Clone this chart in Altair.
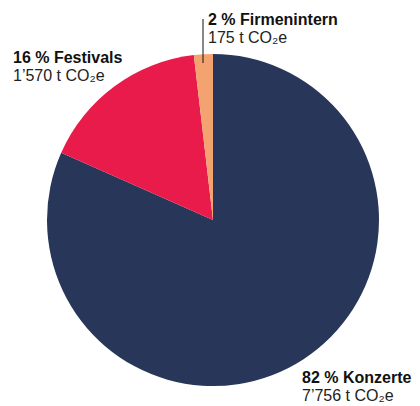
import altair as alt
import pandas as pd

categories = ["Konzerte", "Festivals", "Firmenintern"]
values = [7756, 1570, 175]
percents = ["82", "16", "2"]
amounts = ["7’756", "1’570", "175"]
colors = ["#283659", "#e91b4b", "#f2a36f"]

df = pd.DataFrame({
    "category": categories,
    "value": values,
    "idx": list(range(len(categories))),
    "head": [f"{p} % {c}" for p, c in zip(percents, categories)],
    "sub": [f"{a} t CO₂e" for a in amounts],
})

base = alt.Chart(df)

pie = base.mark_arc(radius=166).encode(
    theta=alt.Theta("value:Q", stack=True),
    color=alt.Color("category:N", scale=alt.Scale(domain=categories, range=colors), legend=None),
    order=alt.Order("idx:Q"),
    x=alt.value(205),
    y=alt.value(212),
)

label_pos = {
    "Konzerte": (294, 375),
    "Festivals": (5, 55),
    "Firmenintern": (200, 17),
}
font = "Liberation Sans"
layers = [pie]
for cat, (lx, ly) in label_pos.items():
    f = base.transform_filter(alt.datum.category == cat)
    layers.append(
        f.mark_text(align="left", baseline="alphabetic", font=font, fontSize=16,
                    fontWeight="bold", color="#111111", x=lx, y=ly).encode(text="head:N")
    )
    layers.append(
        f.mark_text(align="left", baseline="alphabetic", font=font, fontSize=16,
                    color="#222222", x=lx, y=ly + 18).encode(text="sub:N")
    )

leader = base.transform_filter(alt.datum.category == "Firmenintern").mark_rule(
    color="#111111", strokeWidth=1
).encode(x=alt.value(195), y=alt.value(11), y2=alt.value(55))
layers.append(leader)

chart = alt.layer(*layers).properties(
    width=404, height=398,
    autosize=alt.AutoSizeParams(type="fit", contains="padding"),
    padding=0,
    background="white",
).configure_view(stroke=None)

chart.save("out.html", embed_options={"renderer": "svg", "actions": False})
